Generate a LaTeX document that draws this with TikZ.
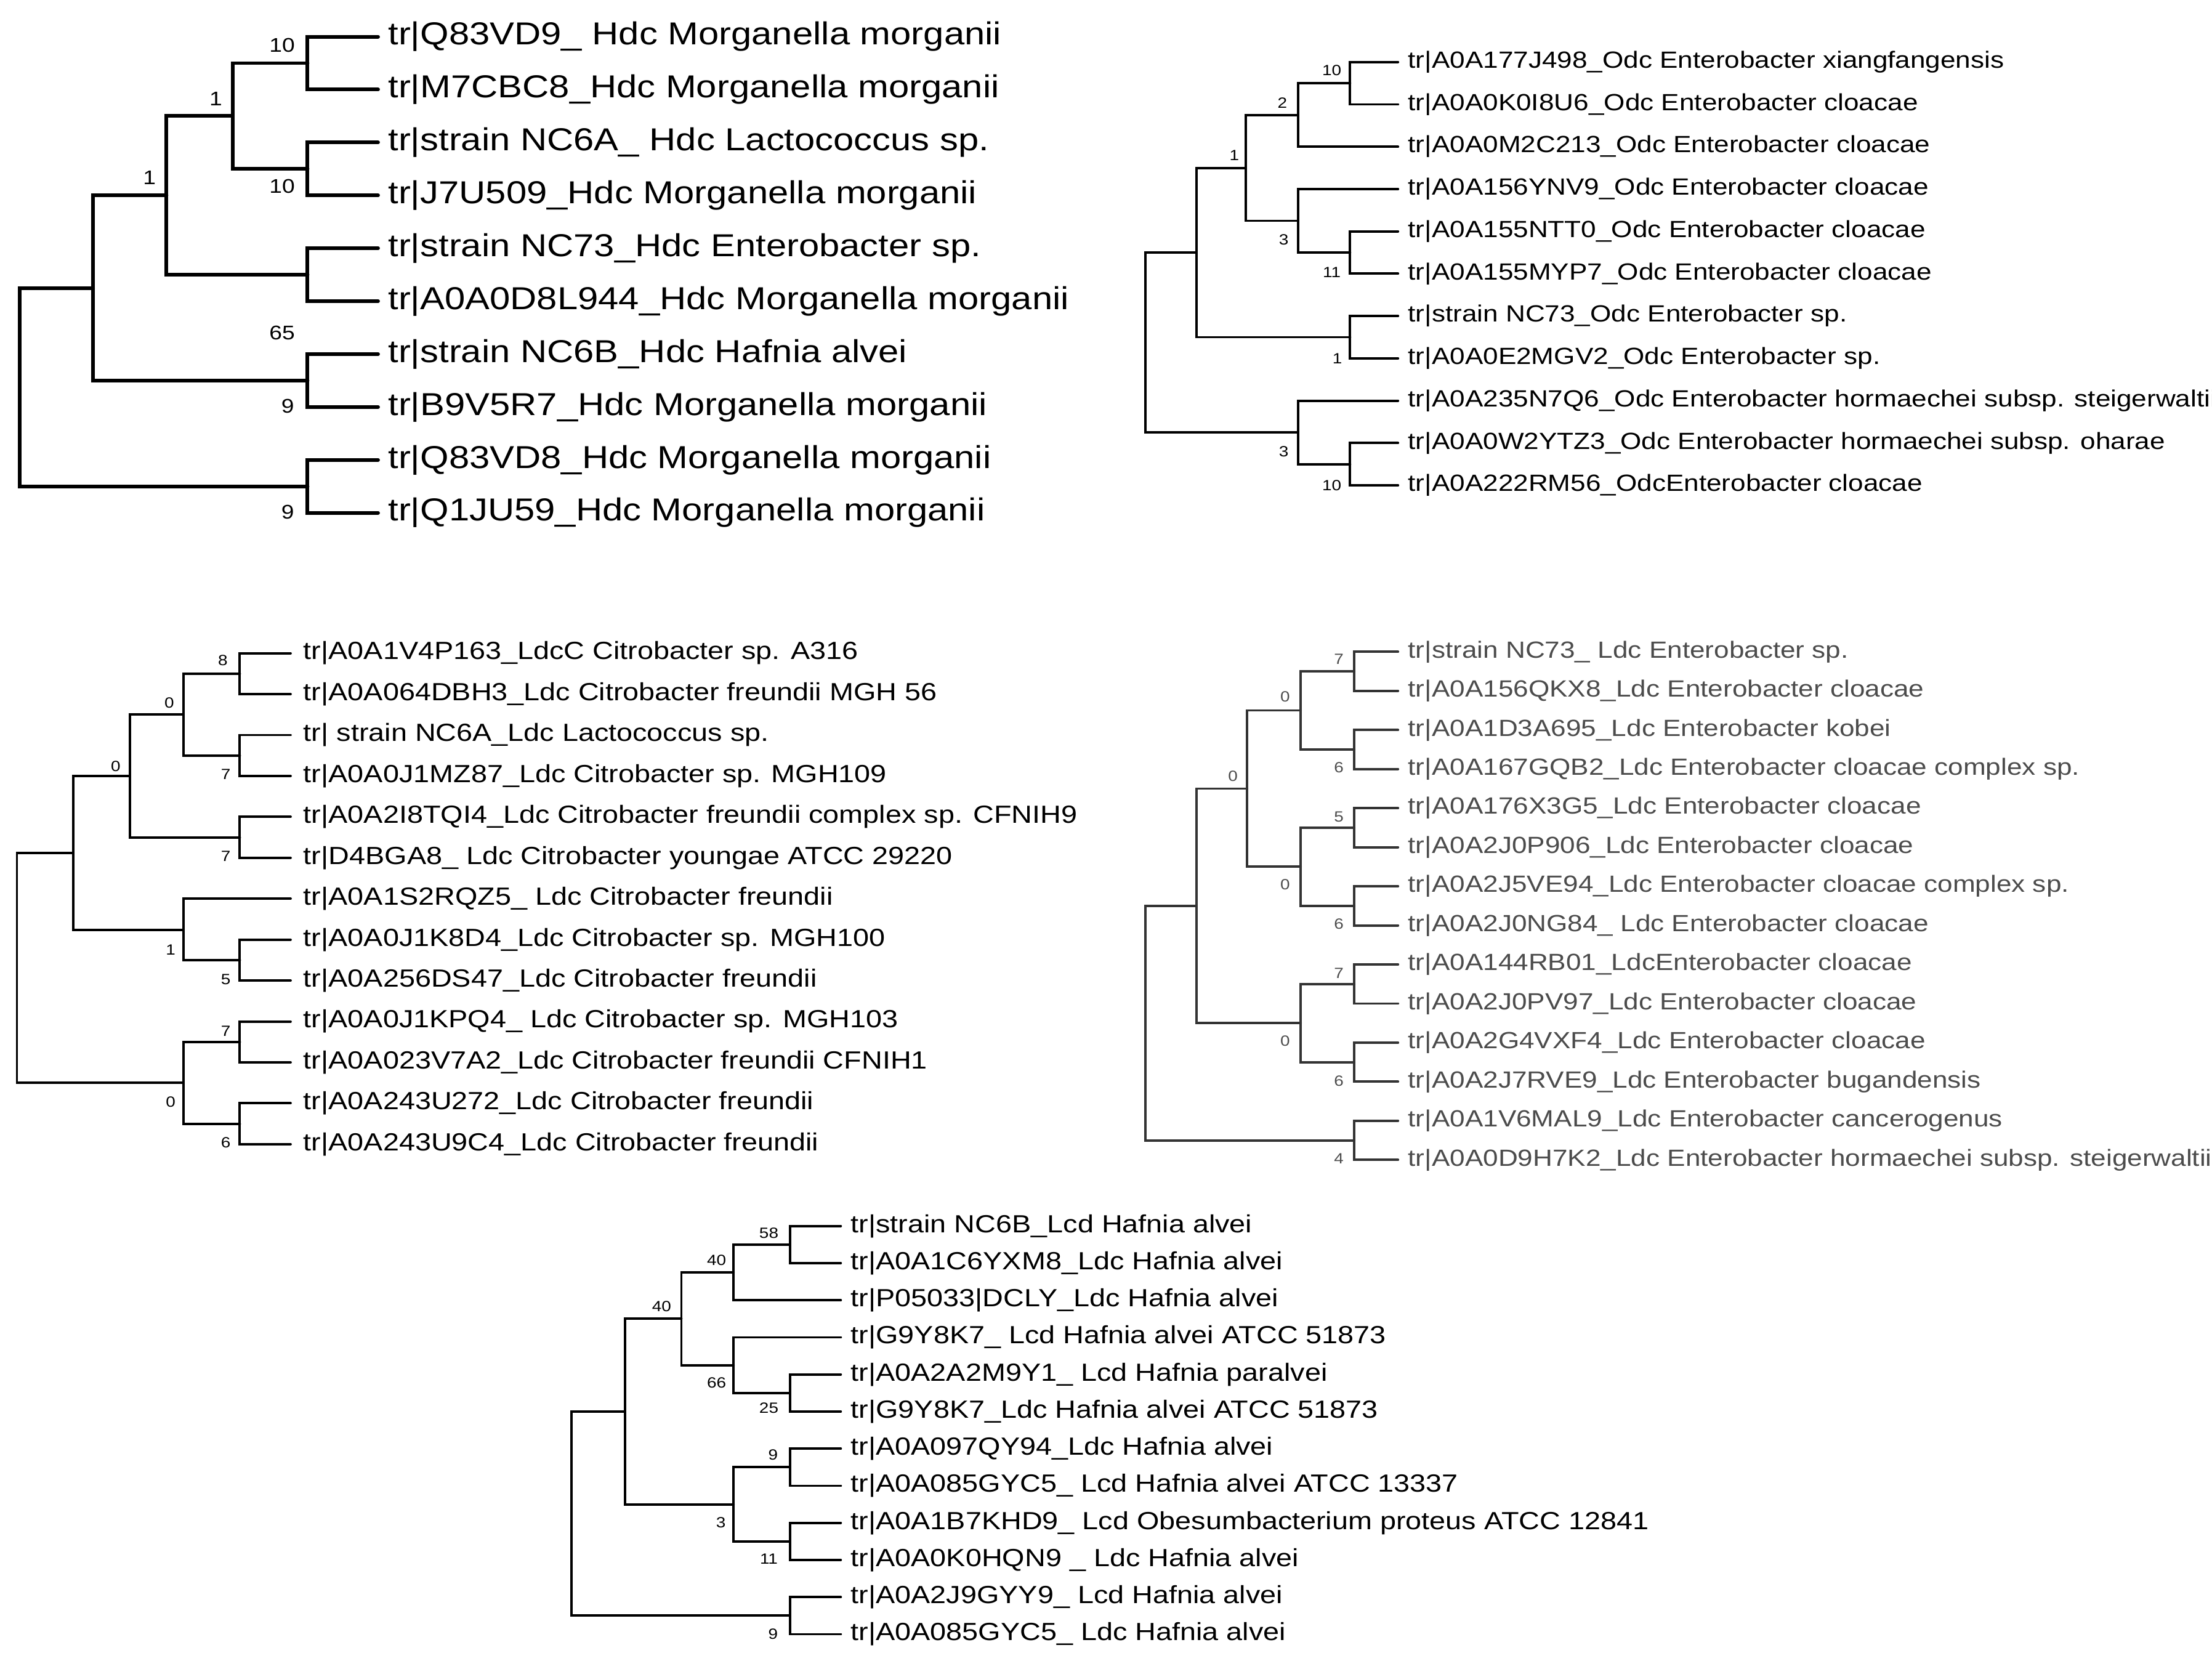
\documentclass[tikz,border=0pt]{standalone}
\usepackage{fontspec}
\setmainfont{Liberation Sans}[FakeStretch=1.16]
\begin{document}
\begin{tikzpicture}[x=1pt,y=-1pt,
 br/.style={line width=2.6pt,line cap=round},
 brs/.style={line width=1.7pt,line cap=round},
 brg/.style={line width=1.7pt,line cap=round,black!80},
 leafA/.style={anchor=west,inner sep=0pt,font=\fontsize{22.5}{22.5}\selectfont},
 leafB/.style={anchor=west,inner sep=0pt,font=\fontsize{16.6}{16.6}\selectfont},
 leafC/.style={anchor=west,inner sep=0pt,font=\fontsize{17.6}{17.6}\selectfont},
 leafG/.style={anchor=west,inner sep=0pt,text=black!70,font=\fontsize{16.6}{16.6}\selectfont},
 leafD/.style={anchor=west,inner sep=0pt,font=\fontsize{17.6}{17.6}\selectfont},
 bsA/.style={inner sep=0pt,font=\fontsize{14}{14}\selectfont},
 bs/.style={inner sep=0pt,font=\fontsize{10.5}{10.5}\selectfont},
 bsg/.style={inner sep=0pt,text=black!70,font=\fontsize{10.5}{10.5}\selectfont}]
\useasboundingbox (0,0) rectangle (1568,1177);
% ---------- Tree 1
\foreach \y/\t [count=\i] in {26/tr|Q83VD9\_ Hdc Morganella morganii,63.5/tr|M7CBC8\_Hdc Morganella morganii,101/tr|strain NC6A\_ Hdc Lactococcus sp.,138.5/tr|J7U509\_Hdc Morganella morganii,176/tr|strain NC73\_Hdc Enterobacter sp.,213.5/tr|A0A0D8L944\_Hdc Morganella morganii,251/tr|strain NC6B\_Hdc Hafnia alvei,288.5/tr|B9V5R7\_Hdc Morganella morganii,326/tr|Q83VD8\_Hdc Morganella morganii,363.5/tr|Q1JU59\_Hdc Morganella morganii}
{\node[leafA] (t1n\i) at (275,\y) {\t}; \coordinate (t1l\i) at (268,\y);}
\coordinate (t1a) at (218,44.75);
\coordinate (t1b) at (218,119.75);
\coordinate (t1c) at (165,82.25);
\coordinate (t1d) at (218,194.75);
\coordinate (t1e) at (118,138.5);
\coordinate (t1f) at (218,269.75);
\coordinate (t1g) at (66,204.1);
\coordinate (t1h) at (218,344.75);
\coordinate (t1r) at (14,274.4);
\foreach \p/\c in {t1a/t1l1,t1a/t1l2,t1b/t1l3,t1b/t1l4,t1c/t1a,t1c/t1b,t1d/t1l5,t1d/t1l6,t1e/t1c,t1e/t1d,t1f/t1l7,t1f/t1l8,t1g/t1e,t1g/t1f,t1h/t1l9,t1h/t1l10,t1r/t1g,t1r/t1h}
 \draw[br] (\p) |- (\c);
\node[bsA] (t1s1) at (200,32) {10};
\node[bsA] (t1s2) at (200,132) {10};
\node[bsA] (t1s3) at (153,70) {1};
\node[bsA] (t1s4) at (200,236) {65};
\node[bsA] (t1s5) at (106,126) {1};
\node[bsA] (t1s6) at (204,288) {9};
\node[bsA] (t1s7) at (204,363) {9};
% ---------- Tree 2
\foreach \y/\t [count=\i] in {44/tr|A0A177J498\_Odc Enterobacter xiangfangensis,74/tr|A0A0K0I8U6\_Odc Enterobacter cloacae,104/tr|A0A0M2C213\_Odc Enterobacter cloacae,134/tr|A0A156YNV9\_Odc Enterobacter cloacae,164/tr|A0A155NTT0\_Odc Enterobacter cloacae,194/tr|A0A155MYP7\_Odc Enterobacter cloacae,224/tr|strain NC73\_Odc Enterobacter sp.,254/tr|A0A0E2MGV2\_Odc Enterobacter sp.,284/tr|A0A235N7Q6\_Odc Enterobacter hormaechei subsp. steigerwaltii,314/tr|A0A0W2YTZ3\_Odc Enterobacter hormaechei subsp. oharae,344/tr|A0A222RM56\_OdcEnterobacter cloacae}
{\node[leafB] (t2n\i) at (998,\y) {\t}; \coordinate (t2l\i) at (991,\y);}
\coordinate (t2a) at (957,59);
\coordinate (t2b) at (920,81.5);
\coordinate (t2c) at (957,179);
\coordinate (t2d) at (920,156.5);
\coordinate (t2e) at (883,119);
\coordinate (t2f) at (957,239);
\coordinate (t2g) at (848,179);
\coordinate (t2h) at (957,329);
\coordinate (t2i) at (920,306.5);
\coordinate (t2r) at (812,242.75);
\foreach \p/\c in {t2a/t2l1,t2a/t2l2,t2b/t2a,t2b/t2l3,t2c/t2l5,t2c/t2l6,t2d/t2l4,t2d/t2c,t2e/t2b,t2e/t2d,t2f/t2l7,t2f/t2l8,t2g/t2e,t2g/t2f,t2h/t2l10,t2h/t2l11,t2i/t2l9,t2i/t2h,t2r/t2g,t2r/t2i}
 \draw[brs] (\p) |- (\c);
\node[bs] (t2s1) at (944,50) {10};
\node[bs] (t2s2) at (909,73) {2};
\node[bs] (t2s3) at (944,193) {11};
\node[bs] (t2s4) at (910,170) {3};
\node[bs] (t2s5) at (875,110) {1};
\node[bs] (t2s6) at (948,254) {1};
\node[bs] (t2s7) at (944,344) {10};
\node[bs] (t2s8) at (910,320) {3};
% ---------- Tree 3
\foreach \t [count=\i] in {tr|A0A1V4P163\_LdcC Citrobacter sp. A316,tr|A0A064DBH3\_Ldc Citrobacter freundii MGH 56,tr| strain NC6A\_Ldc Lactococcus sp.,tr|A0A0J1MZ87\_Ldc Citrobacter sp. MGH109,tr|A0A2I8TQI4\_Ldc Citrobacter freundii complex sp. CFNIH9,tr|D4BGA8\_ Ldc Citrobacter youngae ATCC 29220,tr|A0A1S2RQZ5\_ Ldc Citrobacter freundii,tr|A0A0J1K8D4\_Ldc Citrobacter sp. MGH100,tr|A0A256DS47\_Ldc Citrobacter freundii,tr|A0A0J1KPQ4\_ Ldc Citrobacter sp. MGH103,tr|A0A023V7A2\_Ldc Citrobacter freundii CFNIH1,tr|A0A243U272\_Ldc Citrobacter freundii,tr|A0A243U9C4\_Ldc Citrobacter freundii}
{\pgfmathsetmacro\yy{463+29*(\i-1)}\node[leafC] (t3n\i) at (215,\yy) {\t}; \coordinate (t3l\i) at (206,\yy);}
\coordinate (t3a) at (170,477.5);
\coordinate (t3b) at (170,535.5);
\coordinate (t3c) at (130,506.5);
\coordinate (t3d) at (170,593.5);
\coordinate (t3e) at (92,550);
\coordinate (t3f) at (170,680.5);
\coordinate (t3g) at (130,659);
\coordinate (t3h) at (52,604.5);
\coordinate (t3i) at (170,738.5);
\coordinate (t3j) at (170,796.5);
\coordinate (t3k) at (130,767.5);
\coordinate (t3r) at (12,686);
\foreach \p/\c in {t3a/t3l1,t3a/t3l2,t3b/t3l3,t3b/t3l4,t3c/t3a,t3c/t3b,t3d/t3l5,t3d/t3l6,t3e/t3c,t3e/t3d,t3f/t3l8,t3f/t3l9,t3g/t3l7,t3g/t3f,t3h/t3e,t3h/t3g,t3i/t3l10,t3i/t3l11,t3j/t3l12,t3j/t3l13,t3k/t3i,t3k/t3j,t3r/t3h,t3r/t3k}
 \draw[brs] (\p) |- (\c);
\node[bs] (t3s1) at (158,468) {8};
\node[bs] (t3s2) at (160,549) {7};
\node[bs] (t3s3) at (120,498) {0};
\node[bs] (t3s4) at (160,607) {7};
\node[bs] (t3s5) at (82,543) {0};
\node[bs] (t3s6) at (160,694) {5};
\node[bs] (t3s7) at (121,673) {1};
\node[bs] (t3s8) at (160,731) {7};
\node[bs] (t3s9) at (160,810) {6};
\node[bs] (t3s10) at (121,781) {0};
% ---------- Tree 4
\foreach \t [count=\i] in {tr|strain NC73\_ Ldc Enterobacter sp.,tr|A0A156QKX8\_Ldc Enterobacter cloacae,tr|A0A1D3A695\_Ldc Enterobacter kobei,tr|A0A167GQB2\_Ldc Enterobacter cloacae complex sp.,tr|A0A176X3G5\_Ldc Enterobacter cloacae,tr|A0A2J0P906\_Ldc Enterobacter cloacae,tr|A0A2J5VE94\_Ldc Enterobacter cloacae complex sp.,tr|A0A2J0NG84\_ Ldc Enterobacter cloacae,tr|A0A144RB01\_LdcEnterobacter  cloacae,tr|A0A2J0PV97\_Ldc Enterobacter cloacae,tr|A0A2G4VXF4\_Ldc Enterobacter cloacae,tr|A0A2J7RVE9\_Ldc Enterobacter bugandensis,tr|A0A1V6MAL9\_Ldc Enterobacter cancerogenus,tr|A0A0D9H7K2\_Ldc Enterobacter hormaechei subsp. steigerwaltii}
{\pgfmathsetmacro\yy{462+27.7*(\i-1)}\node[leafG] (t4n\i) at (998,\yy) {\t}; \coordinate (t4l\i) at (991,\yy);}
\coordinate (t4a) at (960,475.85);
\coordinate (t4b) at (960,531.25);
\coordinate (t4c) at (922,503.55);
\coordinate (t4d) at (960,586.65);
\coordinate (t4e) at (960,642.05);
\coordinate (t4f) at (922,614.35);
\coordinate (t4g) at (884,558.95);
\coordinate (t4h) at (960,697.45);
\coordinate (t4i) at (960,752.85);
\coordinate (t4j) at (922,725.15);
\coordinate (t4k) at (848,642.05);
\coordinate (t4l) at (960,808.25);
\coordinate (t4r) at (812,725.15);
\foreach \p/\c in {t4a/t4l1,t4a/t4l2,t4b/t4l3,t4b/t4l4,t4c/t4a,t4c/t4b,t4d/t4l5,t4d/t4l6,t4e/t4l7,t4e/t4l8,t4f/t4d,t4f/t4e,t4g/t4c,t4g/t4f,t4h/t4l9,t4h/t4l10,t4i/t4l11,t4i/t4l12,t4j/t4h,t4j/t4i,t4k/t4g,t4k/t4j,t4l/t4l13,t4l/t4l14,t4r/t4k,t4r/t4l}
 \draw[brg] (\p) |- (\c);
\node[bsg] (t4s1) at (949,467) {7};
\node[bsg] (t4s2) at (949,544) {6};
\node[bsg] (t4s3) at (911,494) {0};
\node[bsg] (t4s4) at (949,579) {5};
\node[bsg] (t4s5) at (949,655) {6};
\node[bsg] (t4s6) at (911,627) {0};
\node[bsg] (t4s7) at (874,550) {0};
\node[bsg] (t4s8) at (949,690) {7};
\node[bsg] (t4s9) at (949,766) {6};
\node[bsg] (t4s10) at (911,738) {0};
\node[bsg] (t4s11) at (949,821) {4};
% ---------- Tree 5
\foreach \t [count=\i] in {tr|strain NC6B\_Lcd Hafnia alvei,tr|A0A1C6YXM8\_Ldc Hafnia alvei,tr|P05033|DCLY\_Ldc Hafnia alvei,tr|G9Y8K7\_ Lcd Hafnia alvei ATCC 51873,tr|A0A2A2M9Y1\_ Lcd Hafnia paralvei,tr|G9Y8K7\_Ldc Hafnia alvei ATCC 51873,tr|A0A097QY94\_Ldc Hafnia alvei,tr|A0A085GYC5\_ Lcd Hafnia alvei ATCC 13337,tr|A0A1B7KHD9\_ Lcd Obesumbacterium proteus ATCC 12841,tr|A0A0K0HQN9 \_ Ldc Hafnia alvei,tr|A0A2J9GYY9\_ Lcd Hafnia alvei,tr|A0A085GYC5\_ Ldc Hafnia alvei}
{\pgfmathsetmacro\yy{869+26.3*(\i-1)}\node[leafD] (t5n\i) at (603,\yy) {\t}; \coordinate (t5l\i) at (596,\yy);}
\coordinate (t5a) at (560,882.15);
\coordinate (t5b) at (520,901.9);
\coordinate (t5c) at (560,987.35);
\coordinate (t5d) at (520,967.6);
\coordinate (t5e) at (483,934.75);
\coordinate (t5f) at (560,1039.95);
\coordinate (t5g) at (560,1092.55);
\coordinate (t5h) at (520,1066.25);
\coordinate (t5i) at (443,1000.5);
\coordinate (t5j) at (560,1145.15);
\coordinate (t5r) at (405,1072.8);
\foreach \p/\c in {t5a/t5l1,t5a/t5l2,t5b/t5a,t5b/t5l3,t5c/t5l5,t5c/t5l6,t5d/t5l4,t5d/t5c,t5e/t5b,t5e/t5d,t5f/t5l7,t5f/t5l8,t5g/t5l9,t5g/t5l10,t5h/t5f,t5h/t5g,t5i/t5e,t5i/t5h,t5j/t5l11,t5j/t5l12,t5r/t5i,t5r/t5j}
 \draw[brs] (\p) |- (\c);
\node[bs] (t5s1) at (545,874) {58};
\node[bs] (t5s2) at (508,893) {40};
\node[bs] (t5s3) at (545,998) {25};
\node[bs] (t5s4) at (508,980) {66};
\node[bs] (t5s5) at (469,926) {40};
\node[bs] (t5s6) at (548,1031) {9};
\node[bs] (t5s7) at (545,1105) {11};
\node[bs] (t5s8) at (511,1079) {3};
\node[bs] (t5s9) at (548,1158) {9};
\end{tikzpicture}
\end{document}
